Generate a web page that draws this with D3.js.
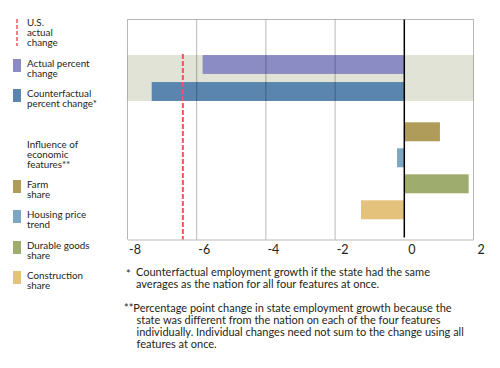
<!DOCTYPE html>
<html>
<head>
<meta charset="utf-8">
<script src="https://cdn.jsdelivr.net/npm/d3@7"></script>
<style>
  body { margin: 0; background: #fff; }
  svg text { font-family: Lato, "Open Sans", sans-serif; fill: #231f20; }
</style>
</head>
<body>
<div id="chart"></div>
<script>
// values
const xTicks = [-8, -6, -4, -2, 0, 2];
const summaryCats = ["Actual percent change", "Counterfactual percent change*"];
const summaryValues = [-5.83, -7.3];
const featureCats = ["Farm share", "Housing price trend", "Durable goods share", "Construction share"];
const featureValues = [1.03, -0.21, 1.86, -1.25];
const usActual = -6.4;

const legendLines = [
  ["U.S.", "actual", "change"],
  ["Actual percent", "change"],
  ["Counterfactual", "percent change*"],
  ["Influence of", "economic", "features**"],
  ["Farm", "share"],
  ["Housing price", "trend"],
  ["Durable goods", "share"],
  ["Construction", "share"]
];
const footnote1 = ["Counterfactual employment growth if the state had the same",
  "averages as the nation for all four features at once."];
const footnote2 = ["**Percentage point change in state employment growth because the",
  "state was different from the nation on each of the four features",
  "individually. Individual changes need not sum to the change using all",
  "features at once."];

const summaryColors = ["#8c8cc4", "#5a85ae"];
const featureColors = ["#b09c5a", "#7ba7c4", "#9eac6d", "#e4c27c"];
const usColor = "#f2565a";

const width = 500, height = 368;
const plot = { left: 127.5, right: 473.5, top: 19.5, bottom: 239.5 };

const svg = d3.select("#chart").append("svg")
  .attr("width", width)
  .attr("height", height);

const x = d3.scaleLinear().domain([-8, 2]).range([plot.left, plot.right]);

const ySummary = d3.scaleBand().domain(summaryCats)
  .range([51, 105]).paddingInner(0.3).paddingOuter(0.15);
const yFeature = d3.scaleBand().domain(featureCats)
  .range([118.4, 223.2]).paddingInner(0.27).paddingOuter(0.15);

// shaded band behind the summary bars
svg.append("rect")
  .attr("x", plot.left)
  .attr("y", ySummary(summaryCats[0]))
  .attr("width", plot.right - plot.left)
  .attr("height", ySummary(summaryCats[1]) + ySummary.bandwidth() - ySummary(summaryCats[0]))
  .attr("fill", "#e0e3d5");

// bars
svg.append("g").selectAll("rect")
  .data(summaryCats)
  .join("rect")
  .attr("x", (d, i) => x(Math.min(0, summaryValues[i])))
  .attr("y", (d) => ySummary(d))
  .attr("width", (d, i) => Math.abs(x(summaryValues[i]) - x(0)))
  .attr("height", ySummary.bandwidth())
  .attr("fill", (d, i) => summaryColors[i]);

svg.append("g").selectAll("rect")
  .data(featureCats)
  .join("rect")
  .attr("x", (d, i) => x(Math.min(0, featureValues[i])))
  .attr("y", (d) => yFeature(d))
  .attr("width", (d, i) => Math.abs(x(featureValues[i]) - x(0)))
  .attr("height", yFeature.bandwidth())
  .attr("fill", (d, i) => featureColors[i]);

// grid lines on top, semi transparent so they darken the bars
svg.append("g").selectAll("line")
  .data(xTicks.filter((d) => d !== 0))
  .join("line")
  .attr("x1", (d) => x(d)).attr("x2", (d) => x(d))
  .attr("y1", plot.top).attr("y2", plot.bottom)
  .attr("stroke", "rgba(0,0,0,0.28)")
  .attr("stroke-width", 1);

svg.append("line")
  .attr("x1", plot.left).attr("x2", plot.right)
  .attr("y1", plot.top).attr("y2", plot.top)
  .attr("stroke", "rgba(0,0,0,0.28)");

// bottom axis
const axis = svg.append("g")
  .attr("transform", `translate(0,${plot.bottom})`)
  .call(d3.axisBottom(x).tickValues(xTicks).tickSize(0).tickPadding(6).tickFormat((d) => String(d)));
axis.select(".domain").attr("stroke", "rgba(0,0,0,0.28)");
axis.selectAll("text")
  .attr("dx", 7)
  .attr("font-size", 12.5)
  .style("font-family", "Lato, sans-serif")
  .attr("fill", "#231f20");

// zero line
svg.append("line")
  .attr("x1", x(0)).attr("x2", x(0))
  .attr("y1", plot.top).attr("y2", plot.bottom - 2)
  .attr("stroke", "#000")
  .attr("stroke-width", 1.5);

// U.S. actual change
svg.append("line")
  .attr("x1", x(usActual)).attr("x2", x(usActual))
  .attr("y1", ySummary(summaryCats[0]) - 1).attr("y2", plot.bottom)
  .attr("stroke", usColor)
  .attr("stroke-width", 2)
  .attr("stroke-dasharray", "5,2");

// legend
const legendY = [22, 63, 93, 144, 184, 214, 245, 275];
const legendSwatch = [null].concat(summaryColors, [null], featureColors);
const legend = svg.append("g").attr("font-size", 9.8);
legendLines.forEach((lines, i) => {
  lines.forEach((l, j) => {
    legend.append("text")
      .attr("x", 27)
      .attr("y", legendY[i] + 3.5 + j * 10.3)
      .text(l);
  });
  if (legendSwatch[i]) {
    legend.append("rect")
      .attr("x", 13).attr("y", legendY[i] - 4)
      .attr("width", 8).attr("height", 13)
      .attr("fill", legendSwatch[i]);
  }
});
legend.append("line")
  .attr("x1", 17).attr("x2", 17)
  .attr("y1", 19).attr("y2", 46)
  .attr("stroke", usColor)
  .attr("stroke-width", 1.5)
  .attr("stroke-dasharray", "4,2");

// footnotes
const notes = svg.append("g").attr("font-size", 11);
notes.append("text").attr("x", 126).attr("y", 278).text("*");
footnote1.forEach((l, j) => {
  notes.append("text")
    .attr("x", 136)
    .attr("y", 276 + j * 11.8)
    .text(l);
});
footnote2.forEach((l, j) => {
  notes.append("text")
    .attr("x", j === 0 ? 124 : 136.5)
    .attr("y", 312 + j * 12)
    .text(l);
});
</script>
</body>
</html>
